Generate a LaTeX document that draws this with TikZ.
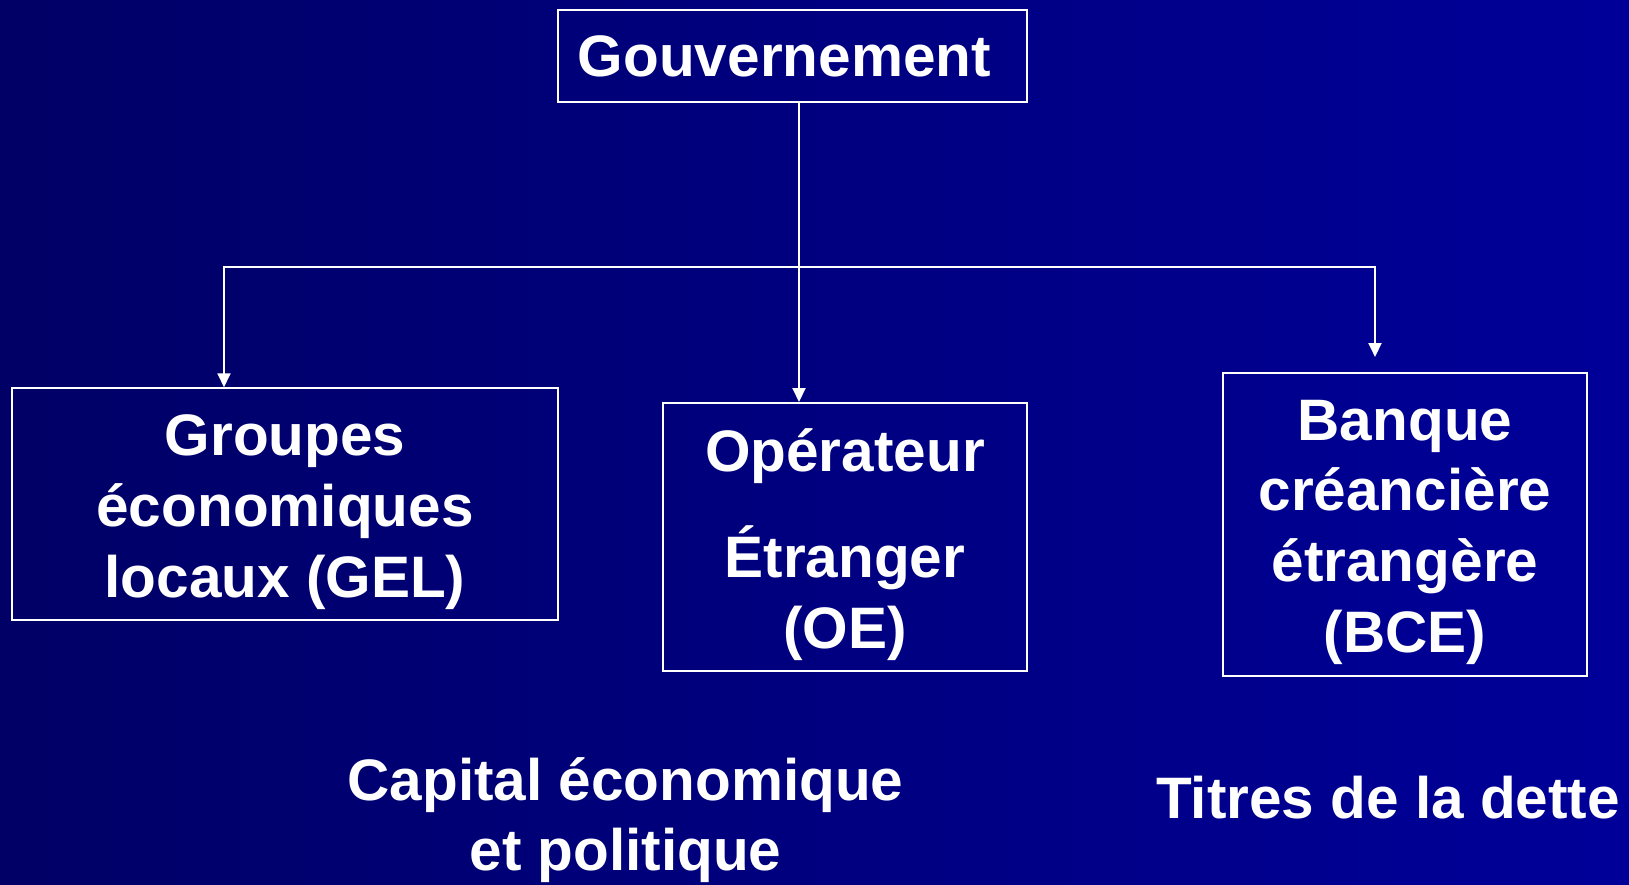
\documentclass[tikz,border=0pt]{standalone}
\usepackage{fontspec}
\setmainfont{Liberation Sans}
\usetikzlibrary{arrows.meta}

\definecolor{bgleft}{RGB}{0,0,102}
\definecolor{bgright}{RGB}{0,0,153}

\tikzset{
  entity/.style={draw=white, line width=2pt, text=white, align=center,
    inner sep=0pt, font=\fontsize{58.5}{70.7}\selectfont\bfseries},
  caption/.style={text=white, align=center, inner sep=0pt,
    font=\fontsize{58.5}{70.7}\selectfont\bfseries},
  link/.style={draw=white, line width=2pt, -{Triangle[width=13pt,length=14pt]}}
}

\begin{document}
\begin{tikzpicture}[x=1pt,y=-1pt]
  % Background with a horizontal blue gradient
  \useasboundingbox (0,0) rectangle (1629,885);
  \shade[left color=bgleft, right color=bgright] (0,0) rectangle (1629,885);

  % Boxes
  \node[entity, minimum width=469pt, minimum height=91.5pt] (gouv) at (792.5,56) {Gouvernement\hspace*{0.278em}};
  \node[entity, minimum width=545.5pt, minimum height=231.5pt] (gel) at (285,504) {};
  \node[entity, minimum width=364pt, minimum height=268pt] (oe) at (845,537) {};
  \node[entity, minimum width=364pt, minimum height=303pt] (bce) at (1405,524.5) {};

  % Texts inside the boxes
  \node[caption, yshift=-8pt] (geltext) at (gel.center) {Groupes\\économiques\\locaux (GEL)};
  \node[caption, yshift=-7.5pt] (oetext) at (oe.center) {Opérateur\\[35pt]Étranger\\(OE)};
  \node[caption, yshift=-7.5pt] (bcetext) at (bce.center) {Banque\\créancière\\étrangère\\(BCE)};

  % Captions below the boxes
  \node[caption] (capital) at (625.5,820) {Capital économique\\et politique};
  \node[caption] (titres) at (1388,798) {Titres de la dette};

  % Connectors
  \coordinate (trunk) at (799,267);
  \coordinate (lefttop) at (224,267);
  \coordinate (righttop) at (1375,267);
  \coordinate (rightend) at (1375,357);
  \draw[link] (gouv.south -| trunk) -- (oe.north -| trunk);
  \draw[link] (lefttop -| trunk) -- (lefttop) -- (gel.north -| lefttop);
  \draw[link] (trunk) -- (righttop) -- (rightend);
\end{tikzpicture}
\end{document}
